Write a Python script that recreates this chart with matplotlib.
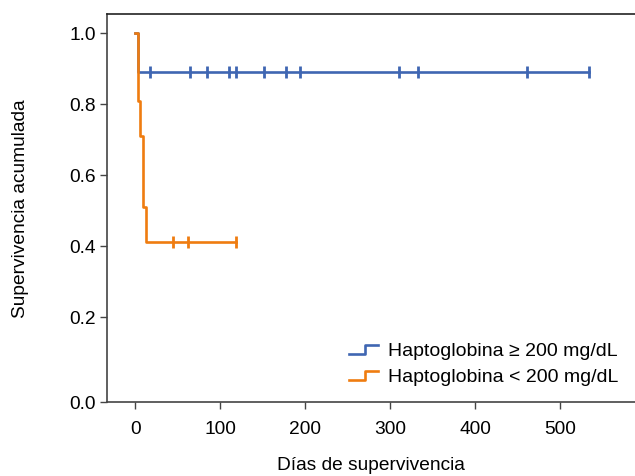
import matplotlib.pyplot as plt
from matplotlib.legend_handler import HandlerBase
from matplotlib.lines import Line2D

plt.rcParams['font.family'] = ['Liberation Sans', 'DejaVu Sans']

# Kaplan-Meier steps
high_times = [0, 2.8, 534]
high_surv = [1.0, 0.889, 0.889]
high_censor = [17, 64, 84, 110, 119, 151, 177, 194, 310, 333, 461, 534]

low_times = [0, 2.8, 5.5, 9.4, 12.2, 119]
low_surv = [1.0, 0.808, 0.71, 0.51, 0.41, 0.41]
low_censor = [44, 62, 119]

labels = ["Haptoglobina \u2265 200 mg/dL", "Haptoglobina < 200 mg/dL"]
blue = '#3F66B2'
orange = '#EF7C10'


def surv_at(times, surv, t):
    val = surv[0]
    for ti, si in zip(times, surv):
        if ti <= t:
            val = si
    return val


class StepHandler(HandlerBase):
    def create_artists(self, legend, orig_handle, xdescent, ydescent,
                       width, height, fontsize, trans):
        x0, x1 = -xdescent, -xdescent + width
        y0, y1 = -ydescent + 0.1 * height, -ydescent + 0.75 * height
        xm = x0 + 0.55 * width
        ln = Line2D([x0, xm, xm, x1], [y0, y0, y1, y1],
                    color=orig_handle.get_color(), lw=orig_handle.get_linewidth(),
                    transform=trans)
        return [ln]


fig = plt.figure(figsize=(6.35, 4.77), dpi=100)
ax = fig.add_axes([0.169, 0.156, 0.831, 0.813])

lines = []
for times, surv, cens, col in [(high_times, high_surv, high_censor, blue),
                               (low_times, low_surv, low_censor, orange)]:
    l, = ax.step(times, surv, where='post', color=col, lw=1.9)
    lines.append(l)
    ax.plot(cens, [surv_at(times, surv, c) for c in cens], ls='none',
            marker='|', ms=8, mew=2.0, color=col)

ax.set_xlim(-33, 588)
ax.set_ylim(-0.04, 1.054)
ax.set_xticks([0, 100, 200, 300, 400, 500])
ax.set_yticks([-0.04, 0.2, 0.4, 0.6, 0.8, 1.0])
ax.set_yticklabels(["0.0", "0.2", "0.4", "0.6", "0.8", "1.0"])

ax.spines['right'].set_visible(False)
for side in ['left', 'bottom', 'top']:
    ax.spines[side].set_color('#444444')
    ax.spines[side].set_linewidth(1.2)
ax.spines['top'].set_color('#222222')

ax.tick_params(direction='out', length=5, width=1, color='#444444',
               labelsize=13.8)
ax.tick_params(axis='x', pad=8)
ax.tick_params(axis='y', pad=3)
ax.set_xlabel("D\u00edas de supervivencia", fontsize=13.8)
ax.set_ylabel("Supervivencia acumulada", fontsize=13.8)
ax.xaxis.set_label_coords(0.5, -0.163)
ax.xaxis.label.set_va('center')
ax.yaxis.set_label_coords(-0.165, 0.5)
ax.yaxis.label.set_va('center')

ax.legend(lines, labels, loc='lower right', frameon=False, fontsize=14,
          handler_map={Line2D: StepHandler()}, handlelength=1.5,
          handletextpad=0.5, labelspacing=0.4, bbox_to_anchor=(1.001, -0.002))

fig.savefig('out.png', dpi=100)
